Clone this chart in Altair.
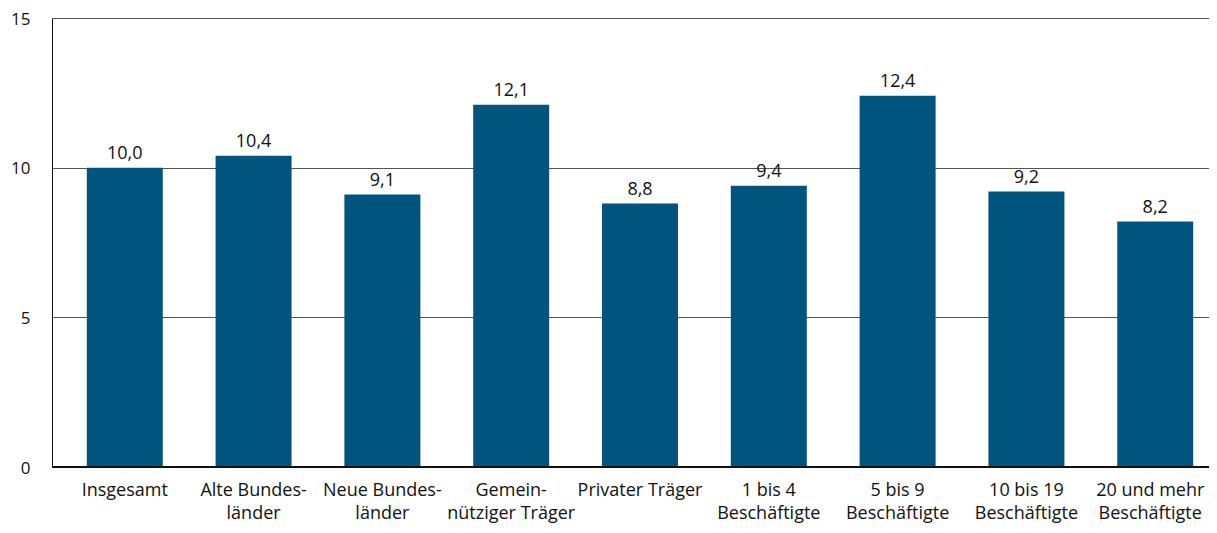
import altair as alt
import pandas as pd

categories = [
    "Insgesamt",
    "Alte Bundes-|länder",
    "Neue Bundes-|länder",
    "Gemein-|nütziger Träger",
    "Privater Träger",
    "1 bis 4|Beschäftigte",
    "5 bis 9|Beschäftigte",
    "10 bis 19|Beschäftigte",
    "20 und mehr|Beschäftigte",
]
values = [10.0, 10.4, 9.1, 12.1, 8.8, 9.4, 12.4, 9.2, 8.2]

df = pd.DataFrame({"cat": categories, "value": values})

FONT = "Open Sans"
BAR = "#00557f"

x = alt.X(
    "cat:N",
    sort=categories,
    title=None,
    scale=alt.Scale(range=[0, 1176], paddingInner=0.41, paddingOuter=0.27),
    axis=alt.Axis(
        labelExpr="split(datum.label, '|')",
        labelAngle=0,
        labelFontSize=18,
        labelFont=FONT,
        labelColor="#111111",
        labelPadding=14,
        labelLineHeight=23,
        labelOffset={
            "condition": {"test": "datum.value == '20 und mehr|Beschäftigte'", "value": -5},
            "value": 0,
        },
        ticks=False,
        domain=False,
        grid=False,
    ),
)

y_axis = alt.Axis(
    values=[0, 5, 10, 15],
    labelFontSize=17,
    labelFont=FONT,
    labelColor="#111111",
    labelPadding=22,
    labelOffset=1,
    ticks=False,
    domain=True,
    domainColor="#111111",
    grid=True,
    gridColor="#555555",
    gridWidth=1,
    title=None,
)

base = alt.Chart(df)

bars = base.mark_bar(color=BAR).encode(
    x=x,
    y=alt.Y("value:Q", scale=alt.Scale(domain=[0, 15], nice=False), axis=y_axis),
)

text = base.transform_calculate(
    lab="replace(format(datum.value, '.1f'), '.', ',')"
).mark_text(
    dy=-5, baseline="bottom", fontSize=18, font=FONT, color="#111111"
).encode(
    x=alt.X("cat:N", sort=categories),
    y=alt.Y("value:Q"),
    text="lab:N",
)

baseline = alt.Chart(df).mark_rule(color="#111111", strokeWidth=1.2).encode(
    y=alt.datum(0)
)

chart = (
    alt.layer(bars, baseline, text)
    .properties(
        width=1157,
        height=449,
        autosize=alt.AutoSizeParams(type="none"),
        padding={"left": 44, "top": 10, "right": 0, "bottom": 58},
    )
    .configure_view(stroke=None)
)

chart.save("out.html", embed_options={"renderer": "svg", "actions": False})
